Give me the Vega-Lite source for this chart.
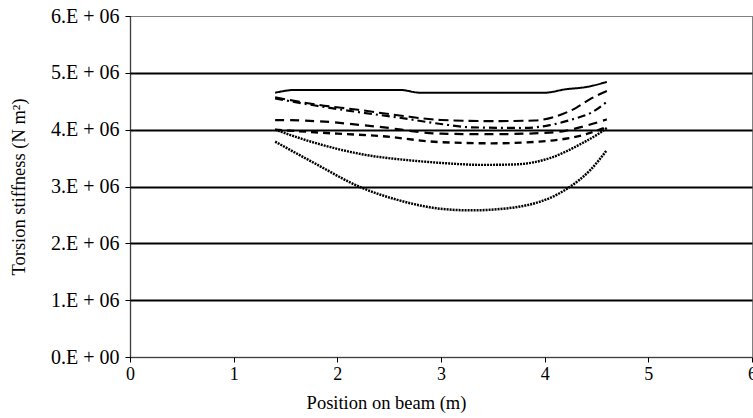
{
  "$schema": "https://vega.github.io/schema/vega-lite/v6.json",
  "width": 622,
  "height": 341,
  "autosize": "none",
  "padding": {"left": 130, "top": 16, "right": 1, "bottom": 61},
  "background": "white",
  "config": {
    "view": {"stroke": "black", "strokeDash": [1, 1], "strokeWidth": 1},
    "font": "Liberation Serif",
    "axis": {
      "labelFont": "Liberation Serif",
      "titleFont": "Liberation Serif",
      "labelColor": "black",
      "titleColor": "black",
      "labelFontSize": 18,
      "titleFontSize": 18.5,
      "titleFontWeight": "normal",
      "domainColor": "black",
      "tickColor": "black",
      "tickSize": 5
    }
  },
  "data": {
    "values": [
      {"series": "s1", "x": 1.4, "y": 4650000},
      {"series": "s1", "x": 1.6, "y": 4700000},
      {"series": "s1", "x": 2.6, "y": 4700000},
      {"series": "s1", "x": 2.8, "y": 4650000},
      {"series": "s1", "x": 4.0, "y": 4650000},
      {"series": "s1", "x": 4.2, "y": 4710000},
      {"series": "s1", "x": 4.4, "y": 4750000},
      {"series": "s1", "x": 4.6, "y": 4840000},

      {"series": "s2", "x": 1.4, "y": 4570000},
      {"series": "s2", "x": 1.8, "y": 4440000},
      {"series": "s2", "x": 2.2, "y": 4350000},
      {"series": "s2", "x": 2.6, "y": 4250000},
      {"series": "s2", "x": 3.0, "y": 4170000},
      {"series": "s2", "x": 3.5, "y": 4150000},
      {"series": "s2", "x": 3.9, "y": 4160000},
      {"series": "s2", "x": 4.1, "y": 4230000},
      {"series": "s2", "x": 4.3, "y": 4380000},
      {"series": "s2", "x": 4.45, "y": 4550000},
      {"series": "s2", "x": 4.6, "y": 4680000},

      {"series": "s3", "x": 1.4, "y": 4550000},
      {"series": "s3", "x": 1.8, "y": 4420000},
      {"series": "s3", "x": 2.2, "y": 4310000},
      {"series": "s3", "x": 2.6, "y": 4210000},
      {"series": "s3", "x": 3.0, "y": 4100000},
      {"series": "s3", "x": 3.3, "y": 4040000},
      {"series": "s3", "x": 3.8, "y": 4030000},
      {"series": "s3", "x": 4.05, "y": 4080000},
      {"series": "s3", "x": 4.3, "y": 4200000},
      {"series": "s3", "x": 4.45, "y": 4300000},
      {"series": "s3", "x": 4.6, "y": 4490000},

      {"series": "s4", "x": 1.4, "y": 4170000},
      {"series": "s4", "x": 1.8, "y": 4150000},
      {"series": "s4", "x": 2.4, "y": 4050000},
      {"series": "s4", "x": 3.0, "y": 3930000},
      {"series": "s4", "x": 3.5, "y": 3920000},
      {"series": "s4", "x": 3.95, "y": 3940000},
      {"series": "s4", "x": 4.2, "y": 3980000},
      {"series": "s4", "x": 4.4, "y": 4070000},
      {"series": "s4", "x": 4.6, "y": 4180000},

      {"series": "s5", "x": 1.4, "y": 4000000},
      {"series": "s5", "x": 2.0, "y": 3930000},
      {"series": "s5", "x": 2.4, "y": 3890000},
      {"series": "s5", "x": 3.0, "y": 3780000},
      {"series": "s5", "x": 3.5, "y": 3760000},
      {"series": "s5", "x": 3.95, "y": 3790000},
      {"series": "s5", "x": 4.2, "y": 3840000},
      {"series": "s5", "x": 4.4, "y": 3920000},
      {"series": "s5", "x": 4.6, "y": 4050000},

      {"series": "s6", "x": 1.4, "y": 4000000},
      {"series": "s6", "x": 1.78, "y": 3770000},
      {"series": "s6", "x": 2.26, "y": 3560000},
      {"series": "s6", "x": 2.7, "y": 3460000},
      {"series": "s6", "x": 3.04, "y": 3410000},
      {"series": "s6", "x": 3.4, "y": 3380000},
      {"series": "s6", "x": 3.73, "y": 3390000},
      {"series": "s6", "x": 4.05, "y": 3500000},
      {"series": "s6", "x": 4.37, "y": 3770000},
      {"series": "s6", "x": 4.53, "y": 3940000},
      {"series": "s6", "x": 4.6, "y": 4030000},

      {"series": "s7", "x": 1.4, "y": 3790000},
      {"series": "s7", "x": 1.78, "y": 3410000},
      {"series": "s7", "x": 2.22, "y": 2990000},
      {"series": "s7", "x": 2.59, "y": 2760000},
      {"series": "s7", "x": 3.04, "y": 2600000},
      {"series": "s7", "x": 3.3, "y": 2580000},
      {"series": "s7", "x": 3.47, "y": 2590000},
      {"series": "s7", "x": 3.95, "y": 2730000},
      {"series": "s7", "x": 4.24, "y": 2990000},
      {"series": "s7", "x": 4.44, "y": 3290000},
      {"series": "s7", "x": 4.6, "y": 3640000}
    ]
  },
  "mark": {"type": "line", "color": "black", "interpolate": "monotone"},
  "encoding": {
    "x": {
      "field": "x",
      "type": "quantitative",
      "scale": {"domain": [0, 6], "nice": false},
      "axis": {
        "title": "Position on beam (m)",
        "values": [0, 1, 2, 3, 4, 5, 6],
        "grid": false,
        "domainDash": [1, 1],
        "domainWidth": 1.5,
        "labelPadding": 3,
        "titlePadding": 10,
        "titleX": 256,
        "labelFlush": false
      }
    },
    "y": {
      "field": "y",
      "type": "quantitative",
      "scale": {"domain": [0, 6000000], "nice": false},
      "axis": {
        "title": "Torsion stiffness (N m²)",
        "values": [0, 1000000, 2000000, 3000000, 4000000, 5000000, 6000000],
        "labelExpr": "format(datum.value / 1000000, 'd') + '.E\u00a0+\u00a0' + (datum.value == 0 ? '00' : '06')",
        "labelFontSize": 20,
        "grid": true,
        "gridColor": "black",
        "gridWidth": 2,
        "gridOpacity": {"condition": {"test": "datum.value == 0 || datum.value == 6000000", "value": 0}, "value": 1},
        "domainDash": [1, 1],
        "domainWidth": 1.5,
        "labelPadding": 6,
        "titlePadding": 22
      }
    },
    "detail": {"field": "series"},
    "strokeDash": {
      "field": "series",
      "type": "nominal",
      "scale": {
        "domain": ["s1", "s2", "s3", "s4", "s5", "s6", "s7"],
        "range": [[1, 0], [10, 5], [8, 4, 2, 4], [9, 6], [7, 5], [2, 1], [2, 1]]
      },
      "legend": null
    },
    "strokeWidth": {
      "field": "series",
      "type": "nominal",
      "scale": {
        "domain": ["s1", "s2", "s3", "s4", "s5", "s6", "s7"],
        "range": [2, 2.5, 2.5, 2, 2, 1.3, 1.3]
      },
      "legend": null
    }
  }
}
